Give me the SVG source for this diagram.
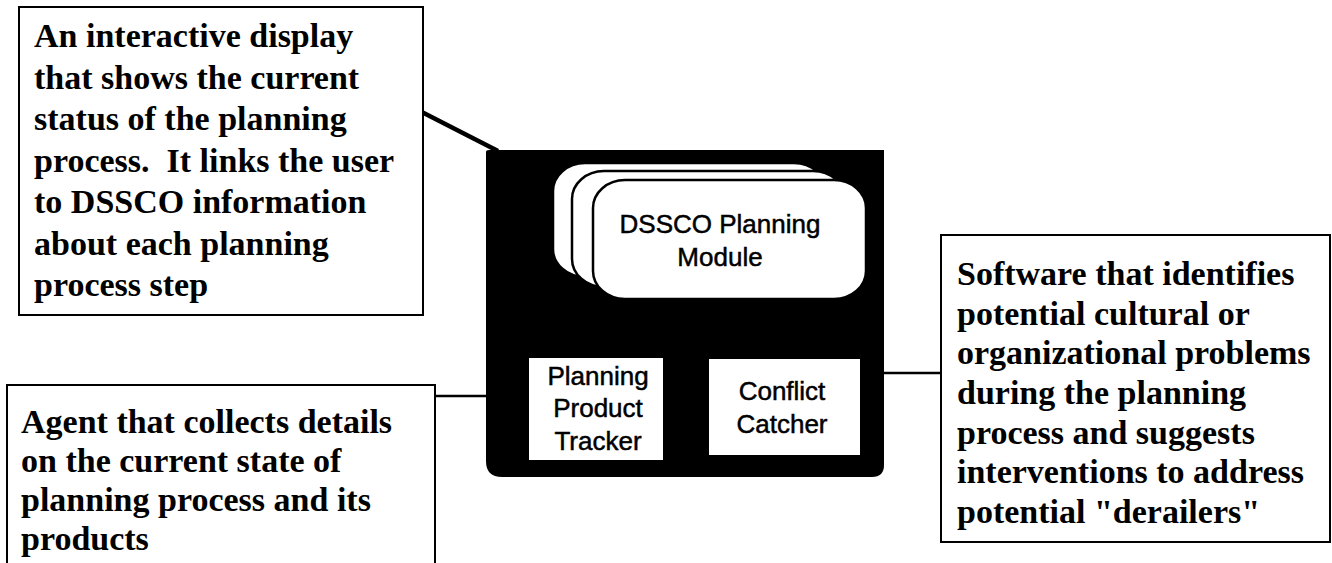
<svg xmlns="http://www.w3.org/2000/svg" width="1332" height="563" viewBox="0 0 1332 563">
  <style>
    .note { fill: #fff; stroke: #000; stroke-width: 2; }
    .note-text { font-family: "Liberation Serif", "Times New Roman", serif; font-weight: bold; font-size: 34px; fill: #000; }
    .label { font-family: "Liberation Sans", Arial, sans-serif; font-size: 26px; fill: #000; stroke: #000; stroke-width: 0.5; text-anchor: middle; }
    .card { fill: #fff; stroke: #000; stroke-width: 2.5; }
    .wire { stroke: #000; fill: none; }
  </style>
  <rect width="1332" height="563" fill="#fff"/>

  <!-- connectors -->
  <g id="connectors">
    <line class="wire" x1="412" y1="107" x2="498" y2="151" stroke-width="4.5"/>
    <line class="wire" x1="435" y1="396" x2="538" y2="396" stroke-width="2.5"/>
    <line class="wire" x1="884" y1="373" x2="941" y2="373" stroke-width="2.5"/>
  </g>

  <!-- main component -->
  <g id="system">
    <path d="M486,152 Q486,150 489,150 H884 V465 Q884,477 872,477 H502 Q486,477 486,461 Z" fill="#000"/>
  </g>

  <g id="planning-module">
    <rect class="card" x="553" y="163" width="273" height="114" rx="32" ry="28"/>
    <rect class="card" x="572" y="171" width="273" height="116" rx="32" ry="28"/>
    <rect class="card" x="593" y="180" width="273" height="119" rx="32" ry="28"/>
    <text class="label" x="720" y="233">DSSCO Planning</text>
    <text class="label" x="720" y="266">Module</text>
  </g>

  <g id="product-tracker">
    <rect x="529" y="358" width="134" height="102" fill="#fff"/>
    <text class="label" x="598" y="385">Planning</text>
    <text class="label" x="598" y="417">Product</text>
    <text class="label" x="598" y="450">Tracker</text>
  </g>

  <g id="conflict-catcher">
    <rect x="709" y="359" width="151" height="96" fill="#fff"/>
    <text class="label" x="782" y="400">Conflict</text>
    <text class="label" x="782" y="433">Catcher</text>
  </g>

  <!-- explanatory notes -->
  <g id="note-display">
    <rect class="note" x="19" y="7" width="404" height="308"/>
    <text class="note-text" x="34" y="47">An interactive display</text>
    <text class="note-text" x="34" y="88.5">that shows the current</text>
    <text class="note-text" x="34" y="130">status of the planning</text>
    <text class="note-text" x="34" y="171.5" xml:space="preserve">process.  It links the user</text>
    <text class="note-text" x="34" y="213">to DSSCO information</text>
    <text class="note-text" x="34" y="254.5">about each planning</text>
    <text class="note-text" x="34" y="296">process step</text>
  </g>

  <g id="note-agent">
    <path class="note" d="M7,570 V385 H435 V570"/>
    <text class="note-text" x="21" y="433">Agent that collects details</text>
    <text class="note-text" x="21" y="472">on the current state of</text>
    <text class="note-text" x="21" y="511">planning process and its</text>
    <text class="note-text" x="21" y="550">products</text>
  </g>

  <g id="note-software">
    <rect class="note" x="941" y="235" width="389" height="307"/>
    <text class="note-text" x="957" y="285">Software that identifies</text>
    <text class="note-text" x="957" y="324.7">potential cultural or</text>
    <text class="note-text" x="957" y="364.3">organizational problems</text>
    <text class="note-text" x="957" y="404">during the planning</text>
    <text class="note-text" x="957" y="443.7">process and suggests</text>
    <text class="note-text" x="957" y="483.3">interventions to address</text>
    <text class="note-text" x="957" y="523">potential "derailers"</text>
  </g>
</svg>
